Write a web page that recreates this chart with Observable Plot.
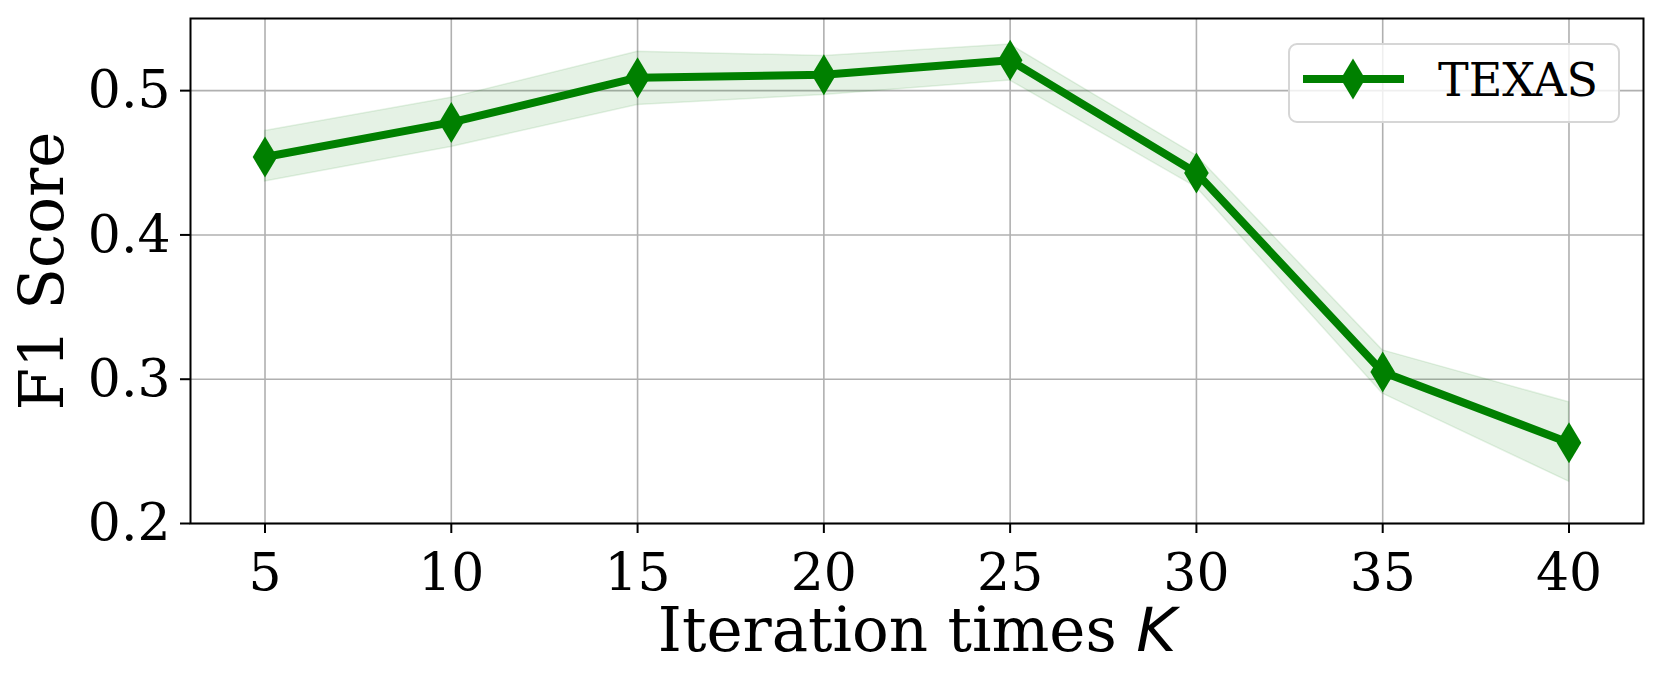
<!DOCTYPE html>
<html><head><meta charset="utf-8">
<script src="https://cdn.jsdelivr.net/npm/d3@7"></script>
<script src="https://cdn.jsdelivr.net/npm/@observablehq/plot@0.6"></script>
<style>
body{margin:0;background:#fff;}
#wrap{position:relative;width:1662px;height:682px;}
#legend{position:absolute;left:1288px;top:43px;width:328px;height:76px;border:2px solid #d6d6d6;border-radius:9px;background:rgba(255,255,255,0.8);}
#legend svg{position:absolute;left:0;top:0;}
</style></head><body><div id="wrap"></div>
<script>
const iterations = [5, 10, 15, 20, 25, 30, 35, 40];
const f1Mean  = [0.454, 0.478, 0.509, 0.511, 0.521, 0.443, 0.305, 0.256];
const f1Upper = [0.472, 0.495, 0.527, 0.524, 0.532, 0.455, 0.320, 0.284];
const f1Lower = [0.437, 0.461, 0.490, 0.497, 0.507, 0.433, 0.290, 0.229];
const xTicks = [5, 10, 15, 20, 25, 30, 35, 40];
const yTicks = [0.2, 0.3, 0.4, 0.5];
const seriesName = "TEXAS";
const xLabel = "Iteration times K";
const yLabel = "F1 Score";

const data = iterations.map((k, i) => ({k, mean: f1Mean[i], hi: f1Upper[i], lo: f1Lower[i]}));
const green = "#008000";

const thinDiamond = {
  draw(ctx, size) {
    const r = Math.sqrt(size / Math.PI);
    const w = r * 0.6;
    ctx.moveTo(0, -r); ctx.lineTo(w, 0); ctx.lineTo(0, r); ctx.lineTo(-w, 0); ctx.closePath();
  }
};

const chart = Plot.plot({
  width: 1662, height: 682,
  marginLeft: 190, marginRight: 19, marginTop: 18, marginBottom: 159,
  style: {fontFamily: "DejaVu Serif", background: "white", color: "black"},
  x: {domain: [3, 42]},
  y: {domain: [0.2, 0.55]},
  marks: [
    Plot.gridX(xTicks, {stroke: "#b0b0b0", strokeOpacity: 1, strokeWidth: 1.6}),
    Plot.gridY(yTicks, {stroke: "#b0b0b0", strokeOpacity: 1, strokeWidth: 1.6}),
    Plot.areaY(data, {x: "k", y1: "lo", y2: "hi", fill: green, fillOpacity: 0.1, stroke: green, strokeOpacity: 0.1, strokeWidth: 1.5}),
    Plot.line(data, {x: "k", y: "mean", stroke: green, strokeWidth: 8}),
    Plot.dot(data, {x: "k", y: "mean", symbol: thinDiamond, r: 20.5, fill: green, stroke: "none"}),
    Plot.frame({stroke: "black", strokeWidth: 2}),
    Plot.axisX(xTicks, {tickSize: 10, tickPadding: 20, fontSize: 52, strokeWidth: 2, stroke: "black", label: null}),
    Plot.axisY(yTicks, {tickSize: 10, tickPadding: 10, fontSize: 52, strokeWidth: 2, stroke: "black", label: null, tickFormat: d => d.toFixed(1)}),
    Plot.text([xLabel], {text: d => d, frameAnchor: "bottom", dy: 127, lineAnchor: "bottom", fontSize: 61, fill: "black"}),
    Plot.text([yLabel], {text: d => d, frameAnchor: "left", dx: -147, rotate: -90, textAnchor: "middle", lineAnchor: "middle", fontSize: 61, fill: "black"})
  ]
});

const wrap = document.getElementById("wrap");
wrap.appendChild(chart);

// italic K in x label
d3.select(chart).selectAll("text").each(function() {
  if (this.textContent === xLabel) {
    const t = d3.select(this);
    t.text(null);
    t.append("tspan").text("Iteration times ");
    t.append("tspan").attr("font-style", "italic").attr("font-family", "DejaVu Sans").text("K");
  }
});

// legend
const legend = document.createElement("div");
legend.id = "legend";
wrap.appendChild(legend);
const ls = d3.select(legend).append("svg").attr("width", 328).attr("height", 76);
ls.append("line").attr("x1", 13).attr("x2", 114).attr("y1", 34).attr("y2", 34).attr("stroke", green).attr("stroke-width", 8);
ls.append("path").attr("transform", "translate(63,34)").attr("d", d3.symbol(thinDiamond, Math.PI * 20.5 * 20.5)()).attr("fill", green);
ls.append("text").attr("x", 148).attr("y", 51).attr("font-family", "DejaVu Serif").attr("font-size", 46).attr("fill", "black").text(seriesName);
</script></body></html>
